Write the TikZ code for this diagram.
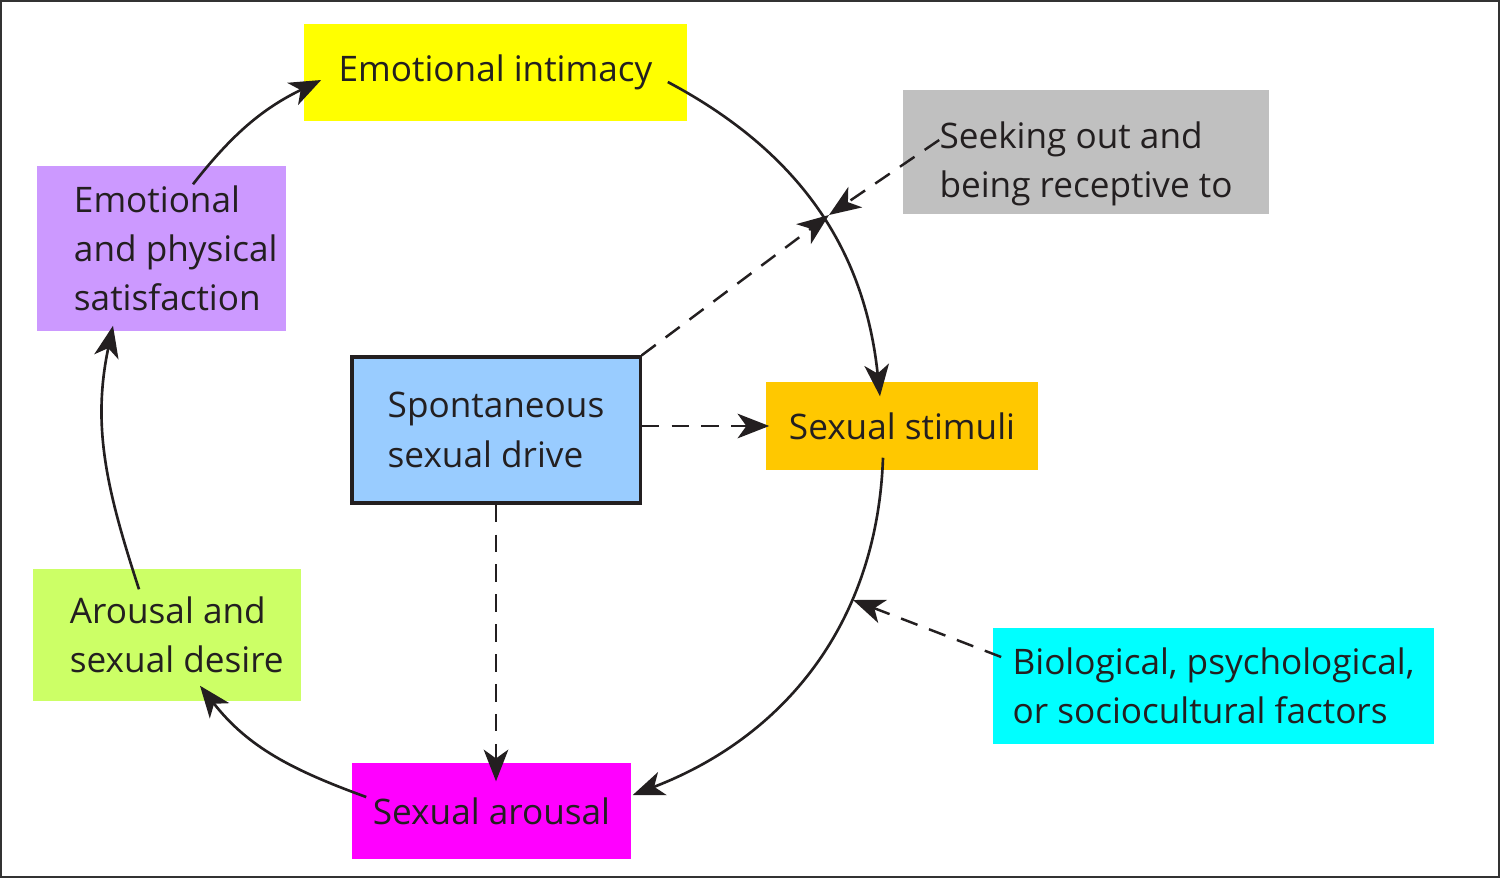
\documentclass[tikz,border=0pt]{standalone}
\usepackage{fontspec}
\setmainfont{Open Sans}
\usetikzlibrary{positioning,arrows.meta,calc}
\definecolor{inkgray}{HTML}{231F20}
\definecolor{intimyellow}{HTML}{FFFF00}
\definecolor{satisfpurple}{HTML}{CC99FF}
\definecolor{drivablue}{HTML}{99CCFF}
\definecolor{stimorange}{HTML}{FFC800}
\definecolor{desirelime}{HTML}{CCFF66}
\definecolor{seekgray}{HTML}{C0C0C0}
\definecolor{factorcyan}{HTML}{00FFFF}
\definecolor{arousmagenta}{HTML}{FF00FF}

\begin{document}
\begin{tikzpicture}[
    x=0.01cm, y=0.01cm,
    box/.style={inner sep=0pt, align=left, text=inkgray, font=\fontsize{10}{14}\selectfont},
    boxtext/.style={box, anchor=west, label distance=-0.37cm},
    cycleline/.style={-{Stealth[length=9pt, width=7pt, inset=2.5pt]}, line width=0.75pt, draw=inkgray},
    feedline/.style={-{Stealth[length=9pt, width=7pt, inset=2.5pt]}, line width=0.7pt, draw=inkgray, dash pattern=on 5pt off 3.5pt}
    ]
        \useasboundingbox (0,0) rectangle (1500,-878);
        \draw[line width=0.6pt, black!80] (1,-1) rectangle (1499,-877);

        %Nodes
        \node[box, fill=intimyellow, minimum width=3.83cm, minimum height=0.97cm]
            (intimacy)  at (495.5,-72.5)  {Emotional intimacy};
        \node[box, fill=seekgray, minimum width=3.66cm, minimum height=1.24cm]
            (seeking)   at (1086,-152)    {\rule{0pt}{14.5pt}Seeking out and\\being receptive to};
        \node[box, fill=satisfpurple, minimum width=2.49cm, minimum height=1.65cm,
              label={[boxtext, name=satisftext]west:{Emotional\\and physical\\satisfaction}}]
            (satisf)    at (161.5,-248.5) {};
        \node[box, fill=drivablue, draw=inkgray, line width=0.9pt, minimum width=2.88cm, minimum height=1.46cm]
            (drive)     at (496,-430)     {Spontaneous\\sexual drive};
        \node[box, fill=stimorange, minimum width=2.72cm, minimum height=0.88cm]
            (stimuli)   at (902,-426)     {Sexual stimuli};
        \node[box, fill=desirelime, minimum width=2.68cm, minimum height=1.32cm,
              label={[boxtext, name=desiretext]west:{Arousal and\\sexual desire}}]
            (desire)    at (167,-635)     {};
        \node[box, fill=factorcyan, minimum width=4.41cm, minimum height=1.16cm]
            (factors)   at (1213.5,-686)  {Biological, psychological,\\or sociocultural factors};
        \node[box, fill=arousmagenta, minimum width=2.79cm, minimum height=0.96cm]
            (arousal)   at (491.5,-811)   {Sexual arousal};

        \coordinate (meet) at (829,-215);
        \coordinate (hit)  at (853,-600);

        %Lines
        \draw[cycleline] ($(intimacy.east)+(-20,-9.5)$) to[out=-28, in=96] ($(stimuli.north)+(-22,-15)$);
        \draw[cycleline] ($(stimuli.south)+(-19,13)$) to[out=-92, in=21] ($(arousal.east)+(1,16)$);
        \draw[cycleline] ($(arousal.west)+(15,14)$) to[out=160, in=-52] ($(desire.south)+(33,16)$);
        \draw[cycleline] ($(desire.north)+(-28,-21)$) to[out=108, in=-102] ($(satisf.south)+(-48.5,6)$);
        \draw[cycleline] ($(satisf.north)+(31.5,-19)$) to[out=52, in=-154] ($(intimacy.west)+(18,-7.5)$);

        \draw[feedline] (drive.north east) -- (meet);
        \draw[feedline] ($(seeking.west)+(37,12)$) -- (meet);
        \draw[feedline] (drive.east |- stimuli) -- ($(stimuli.west)+(4,0)$);
        \draw[feedline] (drive.south) -- ($(drive.south |- arousal.north)+(0,-19)$);
        \draw[feedline] ($(factors.west)+(9,29)$) -- (hit);
\end{tikzpicture}
\end{document}
